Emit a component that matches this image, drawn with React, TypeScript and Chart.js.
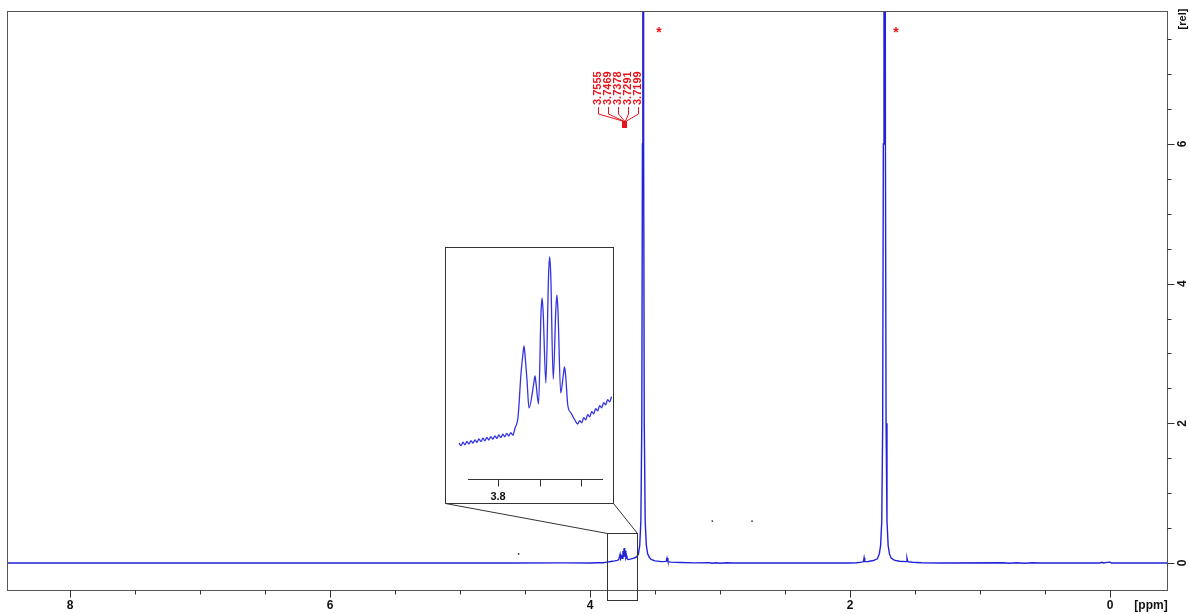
import React, { useEffect, useRef } from 'react';
import { Chart, registerables } from 'chart.js';

Chart.register(...registerables);

// ---- main spectrum (chemical shift in ppm, relative intensity) ----
const specPpm = [
  8.485, 4.6, 4.2, 4.0, 3.95, 3.9, 3.87, 3.84, 3.81, 3.79, 3.78,
  3.7725, 3.7687, 3.7651, 3.7627, 3.7555, 3.7512, 3.7469, 3.7424, 3.7378, 3.7335,
  3.7291, 3.7245, 3.7199, 3.716, 3.708, 3.69, 3.67, 3.655, 3.64, 3.628,
  3.618, 3.609, 3.602, 3.597, 3.594, 3.591, 3.588, 3.583, 3.576, 3.567,
  3.557, 3.544, 3.53, 3.5, 3.45, 3.415, 3.408, 3.401, 3.38, 3.3,
  3.2, 3.08, 3.06, 3.03, 3.0, 2.95, 2.9, 2.0, 1.95, 1.91,
  1.897, 1.892, 1.887, 1.86, 1.82, 1.79, 1.775, 1.765, 1.756, 1.749,
  1.744, 1.739, 1.733, 1.728, 1.723, 1.716, 1.707, 1.697, 1.684, 1.66,
  1.62, 1.568, 1.562, 1.556, 1.52, 1.45, 1.3, 0.82, 0.78, 0.72,
  0.66, 0.6, 0.54, 0.08, 0.06, 0.05, 0.02, 0.0, -0.01, -0.438,
];
const specRel = [
  0, 0, 0.002, 0, 0.004, 0.003, 0.012, 0.022, 0.03, 0.038, 0.05,
  0.097, 0.124, 0.09, 0.062, 0.094, 0.066, 0.172, 0.087, 0.213, 0.091,
  0.175, 0.077, 0.103, 0.065, 0.05, 0.055, 0.065, 0.075, 0.09, 0.13,
  0.25, 0.6, 2.0, 6, 20, 20, 6, 2.0, 0.6, 0.25,
  0.13, 0.08, 0.05, 0.03, 0.02, 0.022, 0.07, 0.02, 0.012, 0.006,
  0.002, 0.004, -0.004, 0.004, -0.003, 0.003, 0, 0, 0.004, 0.012,
  0.02, 0.075, 0.02, 0.022, 0.035, 0.06, 0.13, 0.25, 0.6, 2,
  6, 20, 20, 6, 2, 0.6, 0.25, 0.13, 0.07, 0.04,
  0.025, 0.02, 0.07, 0.02, 0.01, 0.004, 0, 0.003, -0.003, 0.003,
  -0.003, 0.003, 0, 0, 0.01, 0, 0.008, 0.012, 0, 0,
];

// isolated specks in the plot
const dotPpm = [4.55, 3.06, 2.754];
const dotRel = [0.13, 0.6, 0.6];

// ---- expanded region (inset) ----
const insetPpm = [
  3.847, 3.8446, 3.8422, 3.8398, 3.8374, 3.835, 3.8326, 3.8302, 3.8278, 3.8254,
  3.823, 3.8206, 3.8182, 3.8158, 3.8134, 3.811, 3.8086, 3.8062, 3.8038, 3.8014,
  3.799, 3.7966, 3.7942, 3.7918, 3.7894, 3.787, 3.7846, 3.7822,
  3.7795, 3.7759, 3.7723, 3.77, 3.7687, 3.7674, 3.7651, 3.7627,
  3.7567, 3.7555, 3.7543, 3.7512, 3.7482, 3.7469, 3.7456, 3.7424,
  3.7391, 3.7378, 3.7365, 3.7335, 3.7304, 3.7291, 3.7278, 3.7245,
  3.7212, 3.7199, 3.7186, 3.716, 3.712, 3.7075, 3.704,
  3.7016, 3.6992, 3.6968, 3.6944, 3.692, 3.6896, 3.6872, 3.6848, 3.6824, 3.68,
  3.6776, 3.6752, 3.6728, 3.6704, 3.668, 3.6656, 3.6632,
];
const insetRel = [
  0.027, 0.0244, 0.0278, 0.0252, 0.0286, 0.026, 0.0294, 0.0268, 0.0302, 0.0276,
  0.031, 0.0284, 0.0318, 0.0292, 0.0326, 0.03, 0.0334, 0.0308, 0.0342, 0.0316,
  0.035, 0.0324, 0.0358, 0.0332, 0.0366, 0.034, 0.0374, 0.0348,
  0.042, 0.053, 0.097, 0.116, 0.124, 0.114, 0.09, 0.062,
  0.088, 0.094, 0.087, 0.066, 0.158, 0.172, 0.157, 0.087,
  0.196, 0.213, 0.195, 0.091, 0.16, 0.175, 0.159, 0.077,
  0.096, 0.103, 0.095, 0.065, 0.057, 0.05, 0.046,
  0.0493, 0.0472, 0.0523, 0.0502, 0.0553, 0.0532, 0.0583, 0.0562, 0.0613, 0.0592,
  0.0643, 0.0622, 0.0673, 0.0652, 0.0703, 0.0682, 0.0733,
];

// ---- annotations ----
const peakLabels = ['3.7555', '3.7469', '3.7378', '3.7291', '3.7199'];
const peakPpm = [3.7555, 3.7469, 3.7378, 3.7291, 3.7199];
const starPpm = [3.469, 1.646];
const starRel = [7.63, 7.63];

// ---- axes ----
const xRange = [-0.438, 8.485];
const yRange = [-0.387, 7.905];
const xMajorTicks = [8, 6, 4, 2, 0];
const xTickLabels = ['8', '6', '4', '2', '0'];
const xMinorTicks = [7.5, 7, 6.5, 5.5, 5, 4.5, 3.5, 3, 2.5, 1.5, 1, 0.5];
const yMajorTicks = [0, 2, 4, 6];
const yTickLabels = ['0', '2', '4', '6'];
const yMinorTicks = [0.5, 1, 1.5, 2.5, 3, 3.5, 4.5, 5, 5.5, 6.5, 7, 7.5];
const xUnit = '[ppm]';
const yUnit = '[rel]';

const insetXRange = [3.6603, 3.8639];
const insetYRange = [-0.034, 0.223];
const insetAxisRange = [3.6735, 3.8361];
const insetAxisRel = -0.009;
const insetTicks = [3.8, 3.75, 3.7];
const insetTickLabels = ['3.8', '', ''];
const zoomBoxPpm = [3.869, 3.638];
const zoomBoxRel = [0.43, -0.53];

// inset placement on the page
const INSET = { left: 445, top: 247, width: 169, height: 257 };

const BLUE = '#2222d8';
const RED = '#e8141b';
const FONT = '"Liberation Sans", Arial, sans-serif';

const mainDecor = {
  id: 'mainDecor',
  afterDraw(chart: any) {
    const { ctx, chartArea: a } = chart;
    const xs = chart.scales.x;
    const ys = chart.scales.y;
    const L = Math.round(a.left) + 0.5;
    const R = Math.round(a.right) + 0.5;
    const T = Math.round(a.top) + 0.5;
    const B = Math.round(a.bottom) + 0.5;
    ctx.save();
    ctx.lineWidth = 1;
    ctx.strokeStyle = '#555';
    ctx.strokeRect(L, T, R - L, B - T);

    // x ticks
    ctx.strokeStyle = '#333';
    ctx.beginPath();
    xMajorTicks.forEach((v) => {
      const x = Math.round(xs.getPixelForValue(v)) + 0.5;
      ctx.moveTo(x, B); ctx.lineTo(x, B + 7);
    });
    xMinorTicks.forEach((v) => {
      const x = Math.round(xs.getPixelForValue(v)) + 0.5;
      ctx.moveTo(x, B); ctx.lineTo(x, B + 4);
    });
    // y ticks (right side)
    yMajorTicks.forEach((v) => {
      const y = Math.round(ys.getPixelForValue(v)) + 0.5;
      ctx.moveTo(R, y); ctx.lineTo(R + 7, y);
    });
    yMinorTicks.forEach((v) => {
      const y = Math.round(ys.getPixelForValue(v)) + 0.5;
      ctx.moveTo(R, y); ctx.lineTo(R + 4, y);
    });
    ctx.stroke();

    ctx.fillStyle = '#111';
    ctx.font = `bold 12px ${FONT}`;
    ctx.textAlign = 'center';
    ctx.textBaseline = 'middle';
    xMajorTicks.forEach((v, i) => {
      ctx.fillText(xTickLabels[i], xs.getPixelForValue(v), 606);
    });
    ctx.fillText(xUnit, 1151, 606);
    yMajorTicks.forEach((v, i) => {
      ctx.save();
      ctx.translate(1183, ys.getPixelForValue(v));
      ctx.rotate(-Math.PI / 2);
      ctx.fillText(yTickLabels[i], 0, 0);
      ctx.restore();
    });
    ctx.save();
    ctx.translate(1183, 19);
    ctx.rotate(-Math.PI / 2);
    ctx.font = `bold 11px ${FONT}`;
    ctx.fillText(yUnit, 0, 0);
    ctx.restore();

    // zoom box and connectors to the inset
    const bx0 = Math.round(xs.getPixelForValue(zoomBoxPpm[0])) + 0.5;
    const bx1 = Math.round(xs.getPixelForValue(zoomBoxPpm[1])) + 0.5;
    const by0 = Math.round(ys.getPixelForValue(zoomBoxRel[0])) + 0.5;
    const by1 = Math.round(ys.getPixelForValue(zoomBoxRel[1])) + 0.5;
    ctx.strokeStyle = '#333';
    ctx.strokeRect(bx0, by0, bx1 - bx0, by1 - by0);
    ctx.beginPath();
    ctx.moveTo(INSET.left + 0.5, INSET.top + INSET.height - 0.5);
    ctx.lineTo(bx0, by0);
    ctx.moveTo(INSET.left + INSET.width - 0.5, INSET.top + INSET.height - 0.5);
    ctx.lineTo(bx1, by0);
    ctx.stroke();

    // peak labels
    ctx.fillStyle = RED;
    ctx.strokeStyle = RED;
    ctx.font = `bold 11px ${FONT}`;
    ctx.textAlign = 'left';
    ctx.textBaseline = 'middle';
    const labelStart = 598;
    const labelStep = 10;
    ctx.beginPath();
    peakLabels.forEach((lab, i) => {
      const lx = labelStart + i * labelStep;
      ctx.save();
      ctx.translate(lx, 105);
      ctx.rotate(-Math.PI / 2);
      ctx.fillText(lab, 0, 0);
      ctx.restore();
      const px = Math.round(xs.getPixelForValue(peakPpm[i])) + 0.5;
      ctx.moveTo(lx + 0.5, 107);
      ctx.lineTo(lx + 0.5, 114);
      ctx.lineTo(px, 121);
      ctx.lineTo(px, 128);
    });
    ctx.stroke();

    // stars
    ctx.font = `bold 14px ${FONT}`;
    ctx.textAlign = 'center';
    starPpm.forEach((p, i) => {
      ctx.fillText('*', xs.getPixelForValue(p), ys.getPixelForValue(starRel[i]) + 3);
    });
    ctx.restore();
  },
};

const insetDecor = {
  id: 'insetDecor',
  beforeDraw(chart: any) {
    const { ctx, width, height } = chart;
    ctx.save();
    ctx.fillStyle = '#fff';
    ctx.fillRect(0, 0, width, height);
    ctx.restore();
  },
  afterDraw(chart: any) {
    const { ctx, width, height } = chart;
    const xs = chart.scales.x;
    const ys = chart.scales.y;
    ctx.save();
    ctx.lineWidth = 1;
    ctx.strokeStyle = '#333';
    ctx.strokeRect(0.5, 0.5, width - 1, height - 1);
    const ay = Math.round(ys.getPixelForValue(insetAxisRel)) + 0.5;
    ctx.beginPath();
    ctx.moveTo(xs.getPixelForValue(insetAxisRange[1]), ay);
    ctx.lineTo(xs.getPixelForValue(insetAxisRange[0]), ay);
    insetTicks.forEach((v) => {
      const x = Math.round(xs.getPixelForValue(v)) + 0.5;
      ctx.moveTo(x, ay);
      ctx.lineTo(x, ay + 7);
    });
    ctx.stroke();
    ctx.fillStyle = '#111';
    ctx.font = `bold 11px ${FONT}`;
    ctx.textAlign = 'center';
    ctx.textBaseline = 'middle';
    insetTicks.forEach((v, i) => {
      if (insetTickLabels[i]) ctx.fillText(insetTickLabels[i], xs.getPixelForValue(v), ay + 17);
    });
    ctx.restore();
  },
};

export default function App() {
  const mainRef = useRef<HTMLCanvasElement>(null);
  const insetRef = useRef<HTMLCanvasElement>(null);

  useEffect(() => {
    const spectrum = specPpm.map((p, i) => ({ x: p, y: specRel[i] }));
    const dots = dotPpm.map((p, i) => ({ x: p, y: dotRel[i] }));
    const main = new Chart(mainRef.current!, {
      type: 'line',
      data: {
        datasets: [
          {
            data: spectrum,
            borderColor: BLUE,
            borderWidth: 1.4,
            pointRadius: 0,
            tension: 0,
          },
          {
            data: dots,
            showLine: false,
            pointRadius: 0.9,
            pointBackgroundColor: '#333',
            pointBorderWidth: 0,
          },
        ],
      },
      options: {
        responsive: false,
        animation: false,
        events: [],
        layout: { padding: { left: 7, top: 11, right: 23, bottom: 24 } },
        plugins: { legend: { display: false }, tooltip: { enabled: false } },
        scales: {
          x: { type: 'linear', reverse: true, min: xRange[0], max: xRange[1], display: false },
          y: { type: 'linear', min: yRange[0], max: yRange[1], display: false },
        },
      },
      plugins: [mainDecor],
    });

    const insetData = insetPpm.map((p, i) => ({ x: p, y: insetRel[i] }));
    const inset = new Chart(insetRef.current!, {
      type: 'line',
      data: {
        datasets: [
          {
            data: insetData,
            borderColor: '#3333e0',
            borderWidth: 1.3,
            pointRadius: 0,
            cubicInterpolationMode: 'monotone',
          },
        ],
      },
      options: {
        responsive: false,
        animation: false,
        events: [],
        layout: { padding: 0 },
        plugins: { legend: { display: false }, tooltip: { enabled: false } },
        scales: {
          x: { type: 'linear', reverse: true, min: insetXRange[0], max: insetXRange[1], display: false },
          y: { type: 'linear', min: insetYRange[0], max: insetYRange[1], display: false },
        },
      },
      plugins: [insetDecor],
    });

    return () => {
      main.destroy();
      inset.destroy();
    };
  }, []);

  return (
    <div style={{ position: 'absolute', left: 0, top: 0, width: 1190, height: 614, background: '#fff' }}>
      <canvas ref={mainRef} width={1190} height={614} style={{ position: 'absolute', left: 0, top: 0 }} />
      <canvas
        ref={insetRef}
        width={INSET.width}
        height={INSET.height}
        style={{ position: 'absolute', left: INSET.left, top: INSET.top }}
      />
    </div>
  );
}
